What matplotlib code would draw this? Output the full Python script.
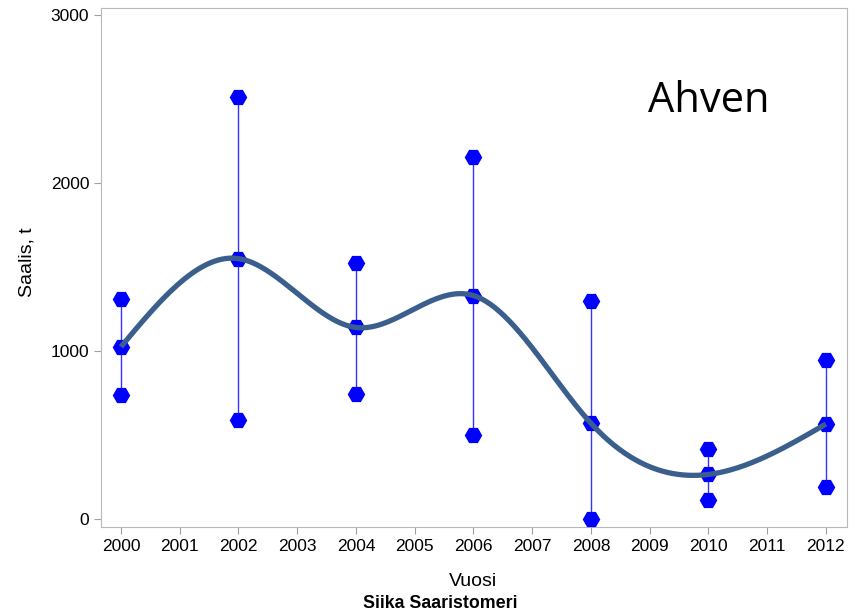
import numpy as np
import matplotlib
matplotlib.use("Agg")
import matplotlib.pyplot as plt

years = [2000, 2002, 2004, 2006, 2008, 2010, 2012]
upper = [1310, 2510, 1525, 2155, 1295, 415, 945]
mid = [1025, 1550, 1140, 1330, 570, 265, 565]
lower = [740, 590, 745, 500, 0, 110, 190]


def natural_spline(x, y, xs):
    x = np.asarray(x, float)
    y = np.asarray(y, float)
    n = len(x)
    h = np.diff(x)
    A = np.zeros((n, n))
    b = np.zeros(n)
    A[0, 0] = 1
    A[-1, -1] = 1
    for i in range(1, n - 1):
        A[i, i - 1] = h[i - 1]
        A[i, i] = 2 * (h[i - 1] + h[i])
        A[i, i + 1] = h[i]
        b[i] = 3 * ((y[i + 1] - y[i]) / h[i] - (y[i] - y[i - 1]) / h[i - 1])
    c = np.linalg.solve(A, b)
    out = np.empty_like(xs)
    for k, xv in enumerate(xs):
        i = min(max(np.searchsorted(x, xv) - 1, 0), n - 2)
        bi = (y[i + 1] - y[i]) / h[i] - h[i] * (2 * c[i] + c[i + 1]) / 3
        di = (c[i + 1] - c[i]) / (3 * h[i])
        t = xv - x[i]
        out[k] = y[i] + bi * t + c[i] * t ** 2 + di * t ** 3
    return out


plt.rcParams['font.family'] = ['Liberation Sans', 'DejaVu Sans']
fig = plt.figure(figsize=(8.64, 6.16), dpi=100)
ax = fig.add_axes([101 / 864, 1 - 527 / 616, 746 / 864, 519 / 616])

for x, lo, hi in zip(years, lower, upper):
    ax.plot([x, x], [lo, hi], color='#3333FF', lw=1, zorder=2)

allx = years * 3
ally = upper + mid + lower
ax.plot(allx, ally, linestyle='none', marker='H', markersize=11.5,
        color='#0000FF', markeredgecolor='#0000FF', zorder=3)

xs = np.linspace(years[0], years[-1], 400)
ax.plot(xs, natural_spline(years, mid, xs), color='#3B5F8C', lw=3.8,
        solid_capstyle='butt', zorder=4)

ax.set_xlim(1999.66, 2012.36)
ax.set_ylim(-48, 3042)
ax.set_xticks(range(2000, 2013))
ax.set_yticks([0, 1000, 2000, 3000])
ax.tick_params(colors='#A0A0A0', labelcolor='black', labelsize=12.5, length=5)
for s in ax.spines.values():
    s.set_color('#B8B8B8')

fig.text(27 / 864, 1 - 262 / 616, 'Saalis, t', ha='center', va='center',
         fontsize=14, rotation=90)
fig.text(473 / 864, 1 - 582 / 616, 'Vuosi', ha='center', va='center', fontsize=14)
fig.text(440 / 864, 1 - 604 / 616, 'Siika Saaristomeri', ha='center', va='center',
         fontsize=12.8, fontweight='bold')
fig.text(709 / 864, 1 - 101 / 616, 'Ahven', ha='center', va='center', fontsize=30,
         family=['Open Sans', 'DejaVu Sans'])

fig.savefig('out.png', dpi=100)
